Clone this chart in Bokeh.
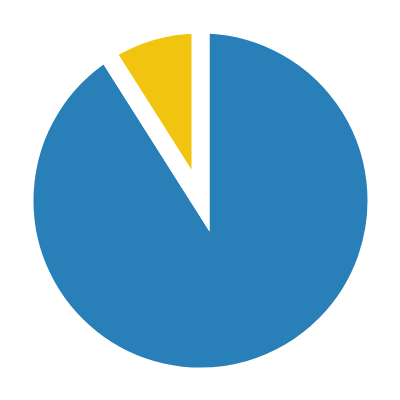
import numpy as np
from bokeh.plotting import figure
from bokeh.models import ColumnDataSource
from bokeh.embed import file_html
from bokeh.resources import INLINE

categories = ["Major", "Minor"]
values = [91, 9]
colors = ["#2980b9", "#f1c40f"]

vals = np.array(values, dtype=float)
frac = vals / vals.sum()
cum = np.cumsum(frac)
prev = np.concatenate([[0.0], cum[:-1]])
start = np.pi / 2 - 2 * np.pi * prev
end = np.pi / 2 - 2 * np.pi * cum

src = ColumnDataSource(dict(cat=categories, value=values, color=colors,
                            start=start, end=end))

S = 192.0
p = figure(width=384, height=384,
           x_range=(-200 / S, 184 / S), y_range=(-184 / S, 200 / S),
           output_backend="svg", toolbar_location=None, min_border=0)
p.axis.visible = False
p.grid.visible = False
p.outline_line_color = None
p.background_fill_color = "white"

p.wedge(x=0, y=0, radius=0.9167, start_angle="start", end_angle="end",
        direction="clock", fill_color="color", line_color="white",
        line_width=18, line_join="miter", source=src)

open("out.html", "w").write(file_html(p, INLINE))
